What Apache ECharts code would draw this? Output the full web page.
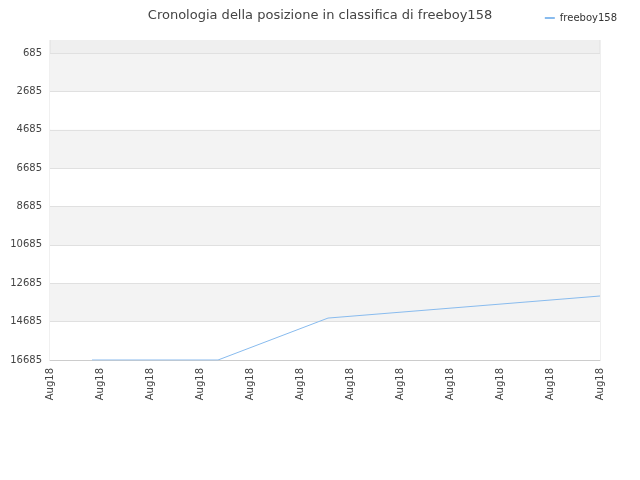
<!DOCTYPE html>
<html><head><meta charset="utf-8">
<script src="https://cdn.jsdelivr.net/npm/echarts@6/dist/echarts.min.js"></script>
</head><body style="margin:0">
<div id="c" style="width:640px;height:480px"></div>
<script>
const categories = ['Aug18','Aug18','Aug18','Aug18','Aug18','Aug18','Aug18','Aug18','Aug18','Aug18','Aug18','Aug18'];
const pointX = [0.84, 3.36, 5.56, 11];
const rankValues = [16685, 16685, 14500, 13350];
const chart = echarts.init(document.getElementById('c'));
chart.setOption({
  title:{text:'Cronologia della posizione in classifica di freeboy158',left:'center',top:4,textStyle:{fontSize:13,fontWeight:'normal',color:'#444',fontFamily:'DejaVu Sans'}},
  legend:{right:18,top:8,itemWidth:10,itemHeight:2,icon:'rect',textStyle:{fontSize:10,color:'#333',fontFamily:'DejaVu Sans'},data:['freeboy158']},
  grid:{left:50,right:40,top:53,bottom:120},
  graphic:[
    {type:'rect',shape:{x:50,y:40,width:550,height:13},style:{fill:'#efefef'},z:-1},
    {type:'line',shape:{x1:600,y1:40,x2:600,y2:360},style:{stroke:'#e0e0e0',lineWidth:1}},
    {type:'line',shape:{x1:50,y1:40,x2:50,y2:360},style:{stroke:'#e0e0e0',lineWidth:1}}
  ],
  xAxis:[
    {type:'category',data:categories,boundaryGap:false,axisLine:{lineStyle:{color:'#ccc'}},axisTick:{show:false},
     axisLabel:{rotate:90,fontSize:10,color:'#444',fontFamily:'DejaVu Sans',interval:0},splitLine:{show:false}},
    {type:'value',min:0,max:11,show:false}
  ],
  yAxis:{type:'value',inverse:true,min:685,max:16685,interval:2000,
    axisLine:{show:false},axisTick:{show:false},
    axisLabel:{fontSize:10,color:'#444',fontFamily:'DejaVu Sans',formatter:v=>String(v)},
    splitLine:{lineStyle:{color:'#e0e0e0'}},splitArea:{show:true,areaStyle:{color:['#f3f3f3','#ffffff']}}},
  series:[{name:'freeboy158',type:'line',xAxisIndex:1,symbol:'none',
    lineStyle:{color:'#88bbee',width:1},itemStyle:{color:'#88bbee'},
    data:pointX.map((x,i)=>[x,rankValues[i]])}]
});
</script></body></html>
